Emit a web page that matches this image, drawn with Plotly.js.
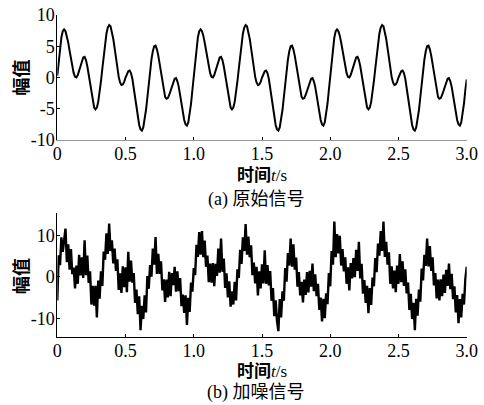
<!DOCTYPE html>
<html>
<head>
<meta charset="utf-8">
<script src="https://cdn.plot.ly/plotly-3.0.1.min.js"></script>
<style>html,body{margin:0;padding:0;background:#fff;}#chart{width:484px;height:405px;}</style>
</head>
<body>
<div id="chart"></div>
<script>
// sampling step of both signals (s)
const sampleStep = 0.01;

// (a) original signal, one value every 0.01 s from 0 to 3.0 s
const originalSignal = [
0.3,2.7,4.8,6.4,7.4,7.7,7.4,6.7,5.6,4.3,
2.9,1.7,0.7,0.1,0.0,0.4,1.1,2.0,2.7,3.2,
3.3,2.8,1.8,0.4,-1.1,-2.6,-3.9,-4.8,-5.1,-4.8,
-3.9,-2.5,-0.6,1.4,3.5,5.4,7.0,8.0,8.4,8.2,
7.4,6.2,4.7,3.0,1.4,0.1,-0.8,-1.2,-1.1,-0.7,
0.0,0.6,1.0,1.1,0.7,-0.2,-1.6,-3.2,-4.9,-6.4,
-7.6,-8.3,-8.5,-8.0,-6.9,-5.2,-3.2,-1.0,1.1,2.9,
4.2,5.0,5.1,4.5,3.5,2.2,0.6,-0.9,-2.2,-3.1,
-3.4,-3.3,-2.8,-2.1,-1.3,-0.6,-0.2,-0.1,-0.6,-1.5,
-2.8,-4.3,-5.7,-6.8,-7.5,-7.7,-7.2,-6.0,-4.2,-2.0,
0.3,2.7,4.8,6.4,7.4,7.7,7.4,6.7,5.6,4.3,
2.9,1.7,0.7,0.1,0.0,0.4,1.1,2.0,2.7,3.2,
3.3,2.8,1.8,0.4,-1.1,-2.6,-3.9,-4.8,-5.1,-4.8,
-3.9,-2.5,-0.6,1.4,3.5,5.4,7.0,8.0,8.4,8.2,
7.4,6.2,4.7,3.0,1.4,0.1,-0.8,-1.2,-1.1,-0.7,
0.0,0.6,1.0,1.1,0.7,-0.2,-1.6,-3.2,-4.9,-6.4,
-7.6,-8.3,-8.5,-8.0,-6.9,-5.2,-3.2,-1.0,1.1,2.9,
4.2,5.0,5.1,4.5,3.5,2.2,0.6,-0.9,-2.2,-3.1,
-3.4,-3.3,-2.8,-2.1,-1.3,-0.6,-0.2,-0.1,-0.6,-1.5,
-2.8,-4.3,-5.7,-6.8,-7.5,-7.7,-7.2,-6.0,-4.2,-2.0,
0.3,2.7,4.8,6.4,7.4,7.7,7.4,6.7,5.6,4.3,
2.9,1.7,0.7,0.1,0.0,0.4,1.1,2.0,2.7,3.2,
3.3,2.8,1.8,0.4,-1.1,-2.6,-3.9,-4.8,-5.1,-4.8,
-3.9,-2.5,-0.6,1.4,3.5,5.4,7.0,8.0,8.4,8.2,
7.4,6.2,4.7,3.0,1.4,0.1,-0.8,-1.2,-1.1,-0.7,
0.0,0.6,1.0,1.1,0.7,-0.2,-1.6,-3.2,-4.9,-6.4,
-7.6,-8.3,-8.5,-8.0,-6.9,-5.2,-3.2,-1.0,1.1,2.9,
4.2,5.0,5.1,4.5,3.5,2.2,0.6,-0.9,-2.2,-3.1,
-3.4,-3.3,-2.8,-2.1,-1.3,-0.6,-0.2,-0.1,-0.6,-1.5,
-2.8,-4.3,-5.7,-6.8,-7.5,-7.7,-7.2,-6.0,-4.2,-2.0,
-0.3
];

// (b) noisy signal, one value every 0.01 s from 0 to 3.0 s
const noisySignal = [
-5.7,5.2,2.8,9.5,6.0,9.5,11.6,3.5,7.8,1.7,
6.7,0.6,2.2,-2.8,2.7,-1.7,5.3,0.3,4.7,-0.3,
8.8,0.4,5.1,-1.5,1.3,-6.7,-2.2,-7.0,-2.2,-9.8,
-0.9,-5.3,1.3,-2.2,6.1,4.1,10.5,5.5,12.8,6.2,
8.8,3.2,6.8,1.4,4.2,-3.2,0.8,-3.9,2.5,-2.5,
2.3,-3.7,6.0,-1.2,3.9,-1.4,0.9,-6.3,-3.1,-9.0,
-4.7,-12.9,-7.0,-10.2,-4.5,-8.6,0.2,-2.9,2.8,0.0,
6.8,2.9,9.6,0.7,5.5,0.7,3.7,-3.3,-0.6,-6.1,
-0.7,-5.0,1.2,-4.7,0.9,-2.0,2.4,-3.6,1.3,-3.5,
-0.3,-7.1,-4.3,-8.7,-4.5,-11.6,-5.1,-8.5,-1.4,-3.6,
2.1,0.4,7.7,4.8,10.8,5.3,11.0,4.7,8.7,2.4,
5.1,-1.3,3.2,-1.4,3.3,-2.3,3.1,0.2,6.8,1.0,
9.2,1.2,4.4,-2.7,0.8,-5.0,-1.1,-7.2,-3.5,-6.7,
-1.2,-5.7,1.8,-0.3,6.5,3.1,9.5,6.2,12.7,5.3,
9.7,4.7,7.6,0.4,3.4,-1.6,2.4,-4.5,1.3,-2.8,
3.0,-1.6,6.4,-1.7,2.8,-2.1,1.4,-5.8,-2.7,-9.5,
-5.7,-10.7,-13.1,-5.4,-9.8,-3.5,-5.8,2.1,-1.2,5.7,
2.7,9.2,2.4,7.8,1.7,4.6,-2.4,1.1,-4.5,-1.2,
-6.2,-0.7,-4.4,1.1,-3.8,1.4,-2.4,3.2,-3.5,0.6,
-4.7,-1.7,-8.0,-5.0,-10.8,-5.3,-10.0,-4.0,-6.6,0.9,
-2.3,6.2,2.9,13.3,4.7,10.3,5.6,9.9,2.7,6.7,
1.3,4.7,-1.7,2.3,-3.3,3.3,-0.4,4.5,-0.1,6.5,
1.4,8.4,-0.4,3.1,-4.1,-0.8,-6.3,-2.2,-8.8,-2.7,
-6.8,-0.2,-2.3,4.5,1.1,8.0,5.1,11.0,6.2,13.3,
4.8,8.4,2.9,5.9,-1.7,2.5,-2.8,1.5,-3.7,2.7,
-1.7,5.5,-1.3,3.7,-2.2,1.8,-4.0,-1.4,-8.0,-4.1,
-10.2,-6.3,-12.9,-5.3,-9.4,-3.1,-6.0,2.0,-0.9,5.3,
2.6,9.2,2.5,7.4,1.4,4.7,-2.1,0.9,-5.2,-0.7,
-5.7,-0.6,-4.7,0.5,-3.9,1.7,-2.2,3.2,-3.0,0.7,
-5.4,-2.3,-8.6,-4.4,-11.2,-5.4,-9.8,-4.1,-6.7,-0.6,
2.4
];

// tick values / labels
const xTickVals = [0, 0.5, 1.0, 1.5, 2.0, 2.5, 3.0];
const xTickText = ['0', '0.5', '1.0', '1.5', '2.0', '2.5', '3.0'];
const yTickValsA = [-10, -5, 0, 5, 10];
const yTickTextA = ['-10', '-5', '0', '5', '10'];
const yTickValsB = [-10, 0, 10];
const yTickTextB = ['-10', '0', '10'];

// texts
const yTitle = '幅值';
const xTitle = '<b>时间</b><i>t</i>/s';
const captionA = '(a) 原始信号';
const captionB = '(b) 加噪信号';

const timeA = originalSignal.map((_, i) => +(i * sampleStep).toFixed(2));
const timeB = noisySignal.map((_, i) => +(i * sampleStep).toFixed(2));

const W = 484, H = 405;
const px = v => v / W;
const py = v => (H - v) / H;

const SERIF = 'Liberation Serif, Times New Roman, serif';
const tickFont = {family: SERIF, size: 18, color: '#000'};
const cjkFont = {family: 'Liberation Serif, Noto Sans CJK SC, serif', size: 17, color: '#000'};

const traces = [
  {x: timeA, y: originalSignal, type: 'scatter', mode: 'lines',
   line: {color: '#000', width: 2}, xaxis: 'x', yaxis: 'y', hoverinfo: 'skip'},
  {x: timeB, y: noisySignal, type: 'scatter', mode: 'lines',
   line: {color: '#000', width: 2.4}, xaxis: 'x2', yaxis: 'y2', hoverinfo: 'skip'}
];

const xCommon = {
  range: [0, 3], tickmode: 'array', tickvals: xTickVals, ticktext: xTickText,
  ticks: 'inside', ticklen: 3, tickcolor: '#000', tickwidth: 1,
  showline: true, linewidth: 1, showgrid: false, zeroline: false,
  tickfont: tickFont, fixedrange: true, ticklabelstandoff: -3
};
const yCommon = {
  tickmode: 'array', ticks: 'inside', ticklen: 3, tickcolor: '#000', tickwidth: 1,
  showline: true, linecolor: '#000', linewidth: 1, showgrid: false, zeroline: false,
  tickfont: tickFont, fixedrange: true, ticklabelstandoff: -2
};

const layout = {
  width: W, height: H,
  margin: {l: 0, r: 0, t: 0, b: 0},
  paper_bgcolor: '#fff', plot_bgcolor: '#fff',
  showlegend: false,
  xaxis: Object.assign({}, xCommon, {domain: [px(57.3), px(466.7)], anchor: 'y', linecolor: '#9a9a9a'}),
  yaxis: Object.assign({}, yCommon, {domain: [py(140), py(15)], anchor: 'x', range: [-10, 10],
    tickvals: yTickValsA, ticktext: yTickTextA}),
  xaxis2: Object.assign({}, xCommon, {domain: [px(57.3), px(466.7)], anchor: 'y2', linecolor: '#000'}),
  yaxis2: Object.assign({}, yCommon, {domain: [py(337.3), py(213.3)], anchor: 'x2', range: [-14.6, 15.3],
    tickvals: yTickValsB, ticktext: yTickTextB}),
  annotations: [
    {text: yTitle, xref: 'paper', yref: 'paper', x: px(20), y: py(77.5), textangle: -90,
     showarrow: false, xanchor: 'center', yanchor: 'middle',
     font: {family: 'Noto Sans CJK SC, sans-serif', size: 18, color: '#000', weight: 'bold'}},
    {text: yTitle, xref: 'paper', yref: 'paper', x: px(20), y: py(276), textangle: -90,
     showarrow: false, xanchor: 'center', yanchor: 'middle',
     font: {family: 'Noto Sans CJK SC, sans-serif', size: 18, color: '#000', weight: 'bold'}},
    {text: xTitle, xref: 'paper', yref: 'paper', x: px(262), y: py(175),
     showarrow: false, xanchor: 'center', yanchor: 'middle', font: cjkFont},
    {text: xTitle, xref: 'paper', yref: 'paper', x: px(262), y: py(371),
     showarrow: false, xanchor: 'center', yanchor: 'middle', font: cjkFont},
    {text: captionA, xref: 'paper', yref: 'paper', x: px(256), y: py(199),
     showarrow: false, xanchor: 'center', yanchor: 'middle', font: Object.assign({}, cjkFont, {size: 18})},
    {text: captionB, xref: 'paper', yref: 'paper', x: px(256), y: py(392),
     showarrow: false, xanchor: 'center', yanchor: 'middle', font: Object.assign({}, cjkFont, {size: 18})}
  ]
};

Plotly.newPlot('chart', traces, layout, {staticPlot: true, displayModeBar: false});
</script>
</body>
</html>
